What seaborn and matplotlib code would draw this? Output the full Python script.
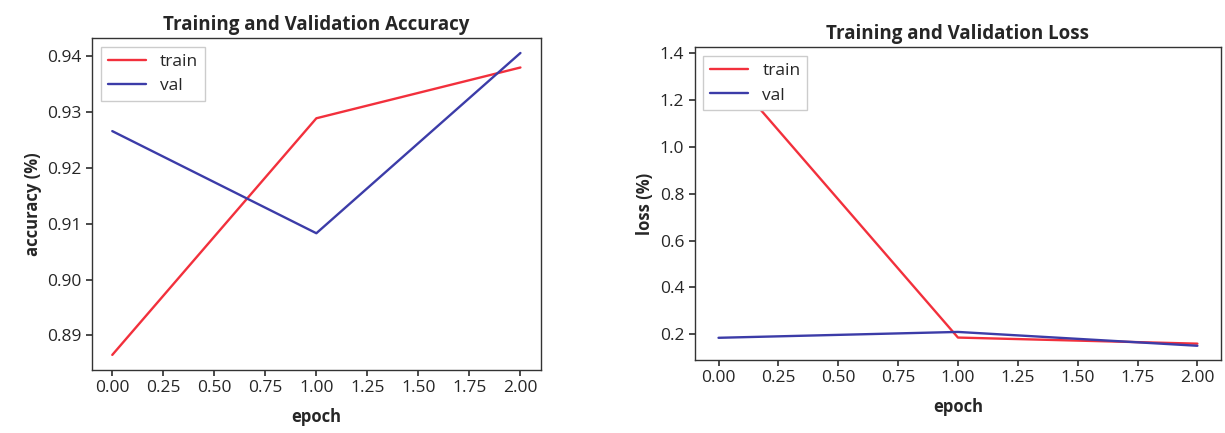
import pandas as pd
import seaborn as sns
import matplotlib.pyplot as plt

# values
epochs = [0, 1, 2]
train_acc = [0.8865, 0.9289, 0.9380]
val_acc = [0.9266, 0.9083, 0.9406]
train_loss = [1.365, 0.186, 0.160]
val_loss = [0.185, 0.210, 0.151]
series_names = ['train', 'val']
colors = {'train': '#f2303c', 'val': '#3c3ca8'}


def long_frame(train, val):
    return pd.DataFrame({
        'epoch': epochs * 2,
        'value': train + val,
        'series': [series_names[0]] * len(epochs) + [series_names[1]] * len(epochs),
    })


sns.set_theme(style='ticks')
plt.rcParams['font.family'] = ['Open Sans', 'DejaVu Sans']

fig = plt.figure(figsize=(12.25, 4.33), dpi=100)
ax1 = fig.add_axes([0.075, 0.1455, 0.3665, 0.767])
ax2 = fig.add_axes([0.567, 0.1686, 0.430, 0.723])

panels = [
    (ax1, long_frame(train_acc, val_acc), 'Training and Validation Accuracy', 'accuracy (%)'),
    (ax2, long_frame(train_loss, val_loss), 'Training and Validation Loss', 'loss (%)'),
]

for ax, df, title, ylabel in panels:
    sns.lineplot(data=df, x='epoch', y='value', hue='series', palette=colors,
                 linewidth=1.7, ax=ax)
    ax.set_title(title, fontsize=13.5, fontweight='bold')
    ax.set_xlabel('epoch', fontsize=12, fontweight='bold', labelpad=8)
    ax.set_ylabel(ylabel, fontsize=12, fontweight='bold')
    ax.set_xticks([0, 0.25, 0.5, 0.75, 1.0, 1.25, 1.5, 1.75, 2.0])
    ax.set_xticklabels(['%.2f' % t for t in ax.get_xticks()])
    ax.tick_params(labelsize=12.5, length=4, color='#333333')
    for s in ax.spines.values():
        s.set_color('#333333')
        s.set_linewidth(1.0)
    ax.legend(loc='upper left', fontsize=12.5, title=None, frameon=True,
              fancybox=False, framealpha=1.0, handlelength=2.2)

ax1.set_yticks([0.89, 0.90, 0.91, 0.92, 0.93, 0.94])
ax1.set_yticklabels(['0.89', '0.90', '0.91', '0.92', '0.93', '0.94'])
ax2.set_yticks([0.2, 0.4, 0.6, 0.8, 1.0, 1.2, 1.4])

fig.savefig('out.png', dpi=100)
